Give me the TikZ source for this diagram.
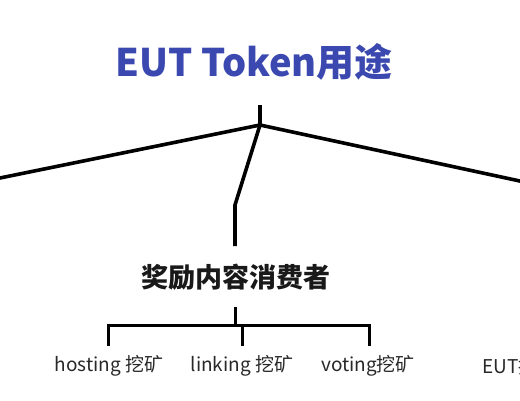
\documentclass[tikz,border=0pt]{standalone}
\usepackage{fontspec}
\setmainfont{Noto Sans CJK SC}
\definecolor{titleblue}{RGB}{59,72,176}
\definecolor{labelgray}{RGB}{40,40,40}
\begin{document}
\begin{tikzpicture}[x=1pt,y=-1pt,
  treeline/.style={line width=3.6pt,black},
  brline/.style={line width=3pt,black},
  titletext/.style={text=titleblue,font=\fontsize{38}{40}\selectfont\bfseries,inner sep=0pt},
  midtext/.style={text=black!90,font=\fontsize{27}{30}\selectfont\bfseries,inner sep=0pt},
  leaftext/.style={text=labelgray,font=\fontsize{19}{21}\selectfont,inner sep=0pt}]
\useasboundingbox (0,0) rectangle (520,400);
\node[titletext] (title) at (254,62) {EUT Token用途};
\coordinate (stubtop) at (260,105);
\coordinate (hub) at (260,125);
\coordinate (leftend) at (-30,184.1);
\coordinate (rightend) at (550,187.5);
\coordinate (bend) at (235,205);
\coordinate (midtop) at (235,246);
\node[midtext] (mid) at (236,277) {奖励内容消费者};
\coordinate (brtop) at (235,307);
\coordinate (brjoin) at (235,325);
\coordinate (brl) at (108,325);
\coordinate (brm) at (242,325);
\coordinate (brr) at (369,325);
\coordinate (brlb) at (108,346);
\coordinate (brmb) at (242,346);
\coordinate (brrb) at (369,346);
\node[leaftext] (hosting) at (109,366) {hosting 挖矿};
\node[leaftext] (linking) at (242,366) {linking 挖矿};
\node[leaftext] (voting) at (368,366) {voting挖矿};
\node[leaftext,anchor=west] (eut) at (482,366) {EUT持有者};
\draw[treeline] (stubtop) -- (hub);
\draw[treeline] (leftend) -- (hub) -- (rightend);
\draw[treeline] (hub) -- (bend) -- (midtop);
\draw[brline] (brtop) -- (brjoin);
\draw[brline] (brlb) -- (brl) -- (brr) -- (brrb);
\draw[brline] (brm) -- (brmb);
\end{tikzpicture}
\end{document}
